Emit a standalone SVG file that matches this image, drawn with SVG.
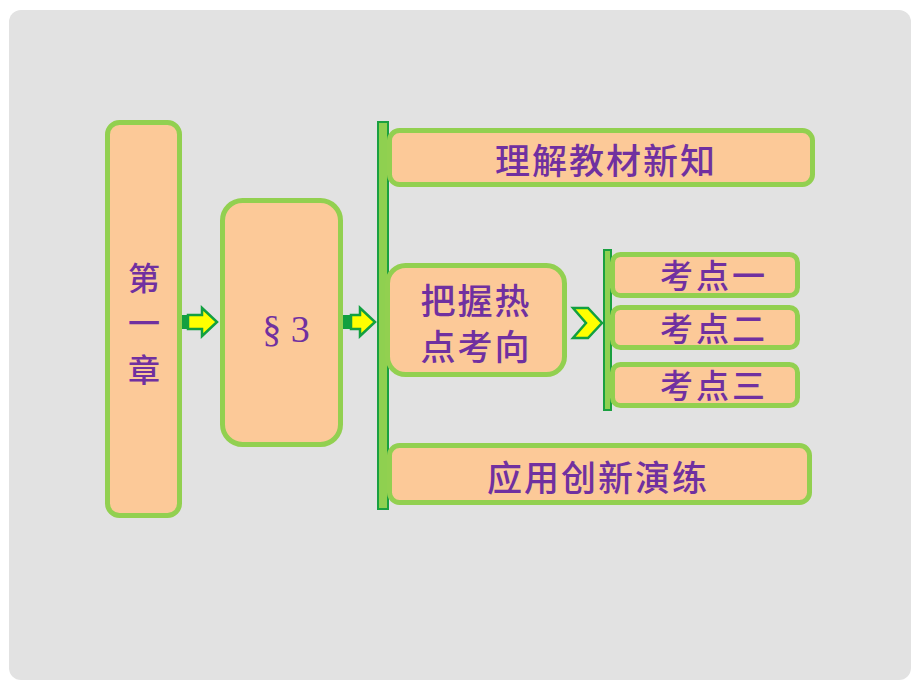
<svg xmlns="http://www.w3.org/2000/svg" width="920" height="690" viewBox="0 0 920 690">
<style>
.box{fill:#fcc998;stroke:#92d050;stroke-width:5}
.bar{fill:#8fd050;stroke:#1aa040;stroke-width:2}
.arr{fill:#ffff00;stroke:#12a040;stroke-width:2.5;stroke-linejoin:miter}
.tail{fill:#12a040}
.t{font-family:"Noto Sans CJK SC","Noto Sans CJK JP",sans-serif;fill:#7030a0;text-anchor:middle;font-weight:500}
.s{font-family:"Liberation Serif","Noto Sans CJK SC",serif;fill:#7030a0;text-anchor:middle}
</style>
<rect x="0" y="0" width="920" height="690" fill="#ffffff"/>
<rect x="9" y="10" width="902" height="670" rx="12" fill="#e2e2e2"/>
<g id="connectors">
<rect class="tail" x="180" y="315" width="8" height="14"/>
<polygon class="arr" points="188,315 202,315 202,308 217,322 202,336 202,329 188,329"/>
<rect class="tail" x="343" y="315" width="8" height="14"/>
<polygon class="arr" points="351,315 360,315 360,308 375,322 360,336 360,329 351,329"/>
<polygon class="arr" points="573,308 588,308 602,323 588,338 573,338 586,323"/>
<rect class="bar" x="378" y="122" width="10" height="387"/>
<rect class="bar" x="604" y="250" width="7" height="160"/>
</g>
<g id="n-chapter">
<rect class="box" x="107.5" y="122.5" width="72" height="393" rx="12"/>
<text class="t" font-size="32" x="144" y="290">第</text>
<text class="t" font-size="32" x="144" y="335">一</text>
<text class="t" font-size="32" x="144" y="382">章</text>
</g>
<g id="n-sec3">
<rect class="box" x="222.5" y="200.5" width="118" height="244" rx="20"/>
<text class="s" font-size="38" x="286" y="342">§ 3</text>
</g>
<g id="n-understand">
<rect class="box" x="389.5" y="130.5" width="423" height="54" rx="10"/>
<text class="t" font-size="35" x="606" y="174" letter-spacing="2">理解教材新知</text>
</g>
<g id="n-hot">
<rect class="box" x="387.5" y="265.5" width="177" height="109" rx="18"/>
<text class="t" font-size="35" x="476" y="314" letter-spacing="2">把握热</text>
<text class="t" font-size="35" x="476" y="360" letter-spacing="2">点考向</text>
</g>
<g id="n-k1">
<rect class="box" x="612.5" y="254.5" width="185" height="41" rx="8"/>
<text class="t" font-size="33" x="714" y="288" letter-spacing="3">考点一</text>
</g>
<g id="n-k2">
<rect class="box" x="612.5" y="307.5" width="185" height="40" rx="8"/>
<text class="t" font-size="33" x="714" y="341" letter-spacing="3">考点二</text>
</g>
<g id="n-k3">
<rect class="box" x="612.5" y="364.5" width="185" height="41" rx="8"/>
<text class="t" font-size="33" x="714" y="398" letter-spacing="3">考点三</text>
</g>
<g id="n-apply">
<rect class="box" x="389.5" y="445.5" width="420" height="57" rx="10"/>
<text class="t" font-size="35" x="598" y="491" letter-spacing="2">应用创新演练</text>
</g>
</svg>
